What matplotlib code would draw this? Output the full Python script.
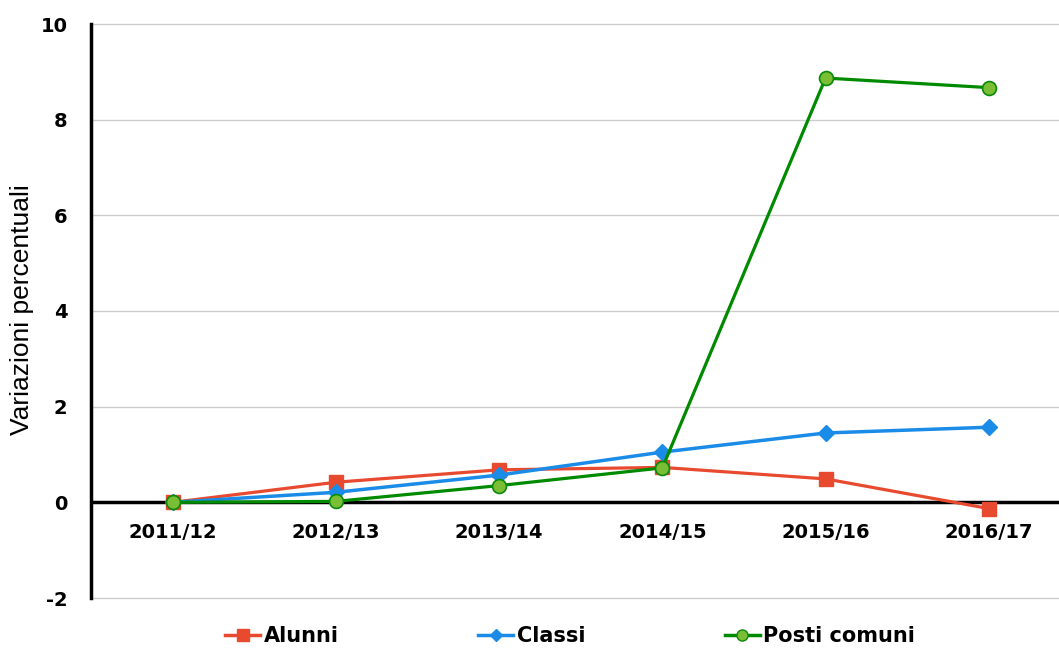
import matplotlib
matplotlib.use("Agg")
import matplotlib.pyplot as plt
from matplotlib.lines import Line2D

categories = ["2011/12", "2012/13", "2013/14", "2014/15", "2015/16", "2016/17"]
alunni = [0.0, 0.42, 0.68, 0.73, 0.49, -0.13]
classi = [0.0, 0.21, 0.57, 1.05, 1.45, 1.57]
posti = [0.0, 0.02, 0.35, 0.72, 8.87, 8.67]
yticks = [-2, 0, 2, 4, 6, 8, 10]

W, H = 1059, 648
fig = plt.figure(figsize=(W / 100, H / 100), dpi=100)
ax = fig.add_axes([91 / W, 50 / H, (W - 91) / W, (598 - 24) / H])

x = list(range(len(categories)))
ax.plot(x, alunni, color="#E84A2F", lw=2.3, marker="s", ms=10, mfc="#E84A2F", mec="#E84A2F", label="Alunni", zorder=3)
ax.plot(x, classi, color="#1A8CE8", lw=2.5, marker="D", ms=8, mfc="#1A8CE8", mec="#1A8CE8", label="Classi", zorder=4)
ax.plot(x, posti, color="#008A00", lw=2.3, marker="o", ms=10, mfc="#79BE35", mec="#0B8A0B", mew=1.2, label="Posti comuni", zorder=5)

ax.set_ylim(-2, 10)
ax.set_xlim(-0.5, 5.43)
ax.set_yticks(yticks)
ax.set_yticklabels([str(v) for v in yticks], fontsize=14, fontweight="bold")
ax.yaxis.grid(True, color="#CCCCCC", lw=1)
for gl in ax.get_ygridlines():
    gl.set_clip_on(False)
ax.set_axisbelow(True)
ax.axhline(0, color="black", lw=2.5, zorder=2)
ax.set_xticks(x)
ax.set_xticklabels([])
ax.tick_params(axis="x", length=0, pad=0)
ax.tick_params(axis="y", length=0, pad=17)
for xi, c in zip(x, categories):
    ax.annotate(c, xy=(xi, 0), xycoords="data", xytext=(0, -22), textcoords="offset points",
                ha="center", va="center", fontsize=14, fontweight="bold")

for s in ["top", "right", "bottom"]:
    ax.spines[s].set_visible(False)
ax.spines["left"].set_linewidth(2.5)
ax.spines["left"].set_color("black")

fig.text(22 / W, 1 - 310 / H, "Variazioni percentuali", rotation=90, ha="center", va="center",
         fontsize=19, family=["Liberation Sans", "DejaVu Sans"])

handles = [
    Line2D([], [], color="#E84A2F", lw=2.5, marker="s", ms=8, mfc="#E84A2F", mec="#E84A2F"),
    Line2D([], [], color="#1A8CE8", lw=2.5, marker="D", ms=6, mfc="#1A8CE8", mec="#1A8CE8"),
    Line2D([], [], color="#008A00", lw=2.5, marker="o", ms=8, mfc="#79BE35", mec="#0B8A0B"),
]
fig.legend(handles, ["Alunni", "Classi", "Posti comuni"], loc="center",
           bbox_to_anchor=(570 / W, 1 - 636 / H), ncol=3, frameon=False,
           columnspacing=6.7, handlelength=1.7, handletextpad=0.15,
           borderpad=0, borderaxespad=0,
           prop={"size": 15, "weight": "bold"})

fig.savefig("out.png", dpi=100)
